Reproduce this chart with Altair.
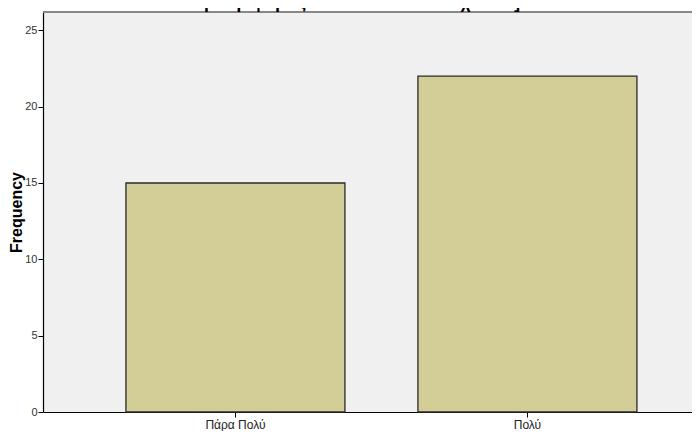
import altair as alt
import pandas as pd

categories = ["Πάρα Πολύ", "Πολύ"]
frequencies = [15, 22]
title_text = "συμπεριφοράς του παιδιού στο σχολείο]"

df = pd.DataFrame({"cat": categories, "freq": frequencies})
FONT = "Liberation Sans"

xscale = alt.Scale(domain=categories, range=[0, 657],
                   paddingInner=0.25, paddingOuter=0.25, align=0.568)
yscale = alt.Scale(domain=[0, 26.2], nice=False, zero=True)

bars = alt.Chart(df).mark_bar(
    color="#D3CE97", stroke="#2a2a2a", strokeWidth=1.3
).encode(
    x=alt.X("cat:N", scale=xscale, sort=categories,
            axis=alt.Axis(title=None, labelAngle=0, labelFont=FONT, labelFontSize=12,
                          labelColor="#222", tickColor="#000", tickSize=5,
                          domainColor="#000", domainWidth=1.2, labelPadding=2)),
    y=alt.Y("freq:Q", scale=yscale,
            axis=alt.Axis(title="Frequency", values=[0, 5, 10, 15, 20, 25], grid=False,
                          labelFont=FONT, labelFontSize=11, labelColor="#333",
                          tickColor="#000", tickSize=5, labelPadding=1,
                          domainColor="#000", domainWidth=1.2,
                          titleFont=FONT, titleFontSize=16, titleFontWeight="bold",
                          titleColor="#000", titlePadding=0)),
)

top_border = alt.Chart(df).mark_rule(color="#888888", strokeWidth=2).encode(
    y=alt.value(0), x=alt.value(0), x2=alt.value(657)
)

title = alt.Chart(pd.DataFrame({"t": [title_text]})).mark_text(
    font=FONT, fontSize=17.5, fontWeight="bold", color="#000",
    align="center", baseline="alphabetic"
).encode(
    text="t:N", x=alt.value(308), y=alt.value(-4.5)
)

chart = alt.layer(top_border, bars, title).properties(
    width=649, height=400,
    autosize=alt.AutoSizeParams(type="none"),
    padding={"left": 35, "top": 4, "right": 0, "bottom": 19},
    background="#FFFFFF",
).configure_view(stroke=None, fill="#F0F0F0")

chart.save("out.html", embed_options={"renderer": "svg", "actions": False})
